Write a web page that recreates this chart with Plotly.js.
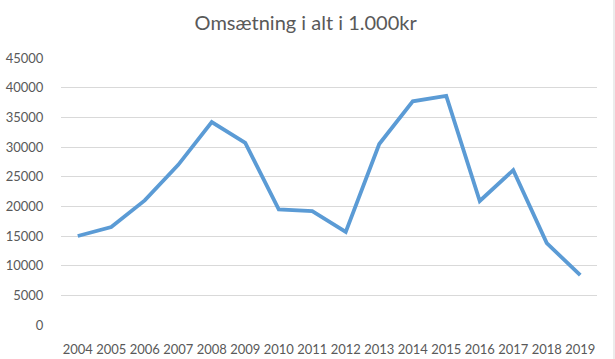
<!DOCTYPE html>
<html>
<head>
<meta charset="utf-8">
<script src="https://cdn.plot.ly/plotly-3.0.1.min.js"></script>
<style>html,body{margin:0;padding:0;background:#fff;}#chart{width:615px;height:359px;}</style>
</head>
<body>
<div id="chart"></div>
<script>
const years = ["2004","2005","2006","2007","2008","2009","2010","2011","2012","2013","2014","2015","2016","2017","2018","2019"];
const omsaetning = [15000,16500,21000,27000,34200,30700,19500,19200,15700,30500,37700,38600,20900,26100,13800,8400];
const yTicks = [0,5000,10000,15000,20000,25000,30000,35000,40000,45000];

Plotly.newPlot('chart', [{
  x: years,
  y: omsaetning,
  type: 'scatter',
  mode: 'lines',
  line: {color: '#5B9BD5', width: 3.8},
  hoverinfo: 'none'
}], {
  width: 615, height: 359,
  margin: {l: 61, r: 18, t: 58, b: 34},
  paper_bgcolor: '#fff', plot_bgcolor: '#fff',
  font: {family: 'Lato, "Open Sans", sans-serif', color: '#595959', size: 13},
  title: {text: 'Omsætning i alt i 1.000kr', font: {size: 20, color: '#595959', family: 'Lato, "Open Sans", sans-serif'}, x: 0.497, xanchor: 'center', y: 0.935, yanchor: 'middle'},
  showlegend: false,
  xaxis: {type: 'category', showgrid: false, zeroline: false, showline: false, ticks: 'outside', ticklen: 12, tickcolor: 'rgba(0,0,0,0)', tickfont: {size: 13, color: '#595959'}, fixedrange: true, range: [-0.5, 15.5]},
  yaxis: {range: [0, 45000], tickvals: yTicks, ticktext: yTicks.map(String), showgrid: true, gridcolor: '#D9D9D9', gridwidth: 1, zeroline: false, showline: false, ticks: 'outside', ticklen: 14, tickcolor: 'rgba(0,0,0,0)', tickfont: {size: 13, color: '#595959'}, fixedrange: true},
  shapes: [{type: 'line', xref: 'paper', yref: 'paper', x0: 1.0317, x1: 1.0317, y0: -0.3, y1: 1.3, line: {color: '#D9D9D9', width: 1}}]
}, {staticPlot: true, displayModeBar: false});
</script>
</body>
</html>
